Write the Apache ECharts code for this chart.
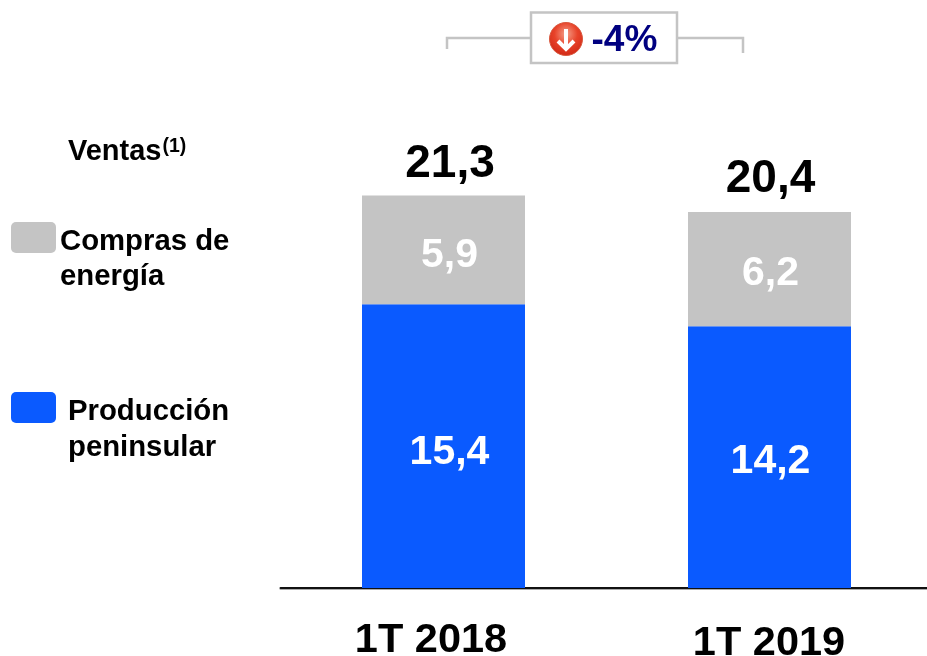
<!DOCTYPE html>
<html><head><meta charset="utf-8">
<style>html,body{margin:0;padding:0;background:#fff}#c{width:927px;height:656px}</style>
<script src="https://cdn.jsdelivr.net/npm/echarts@6/dist/echarts.min.js"></script>
</head><body><div id="c"></div>
<script>
const categories = ['1T 2018', '1T 2019'];
const produccion = [15.4, 14.2];
const compras = [5.9, 6.2];
const totales = [21.3, 20.4];
const nameProduccion = 'Producción peninsular';
const nameCompras = 'Compras de energía';
const variacion = '-4%';

const FONT = '"Liberation Sans", Arial, sans-serif';
const fmt = v => v.toFixed(1).replace('.', ',');
const insideOffsetsProd = [[6, 7], [1, 5]];
const insideOffsetsComp = [[6, 6], [1, 5]];
const totalOffsets = [[6.5, 1], [1, 0]];
const boldLabel = (size, color) => ({fontFamily: FONT, fontWeight: 'bold', fontSize: size, color});

const chart = echarts.init(document.getElementById('c'), null, {renderer: 'canvas'});
const txt = (x, y, text, size, extra) => ({type: 'text', x, y, silent: true, style: Object.assign({
  text, fontFamily: FONT, fontWeight: 'bold', fontSize: size, fill: '#000', verticalAlign: 'middle'
}, extra || {})});
const bracket = pts => ({type: 'polyline', silent: true, shape: {points: pts}, style: {stroke: '#c4c4c4', lineWidth: 2.5, fill: null}});

chart.setOption({
  animation: false,
  backgroundColor: '#fff',
  grid: {left: 280.5, top: 127.25, width: 652, height: 460.75, outerBoundsMode: 'none'},
  xAxis: {
    type: 'category', data: categories,
    axisTick: {show: false},
    axisLine: {lineStyle: {color: '#111', width: 2, shadowColor: '#aaa', shadowBlur: 0, shadowOffsetY: 1}},
    axisLabel: {
      margin: 32,
      formatter: (v, i) => '{c' + i + '|' + v + '}',
      rich: {
        c0: Object.assign(boldLabel(41.5, '#000'), {padding: [0, 25, 0, 0]}),
        c1: Object.assign(boldLabel(41.5, '#000'), {padding: [3, 1, 0, 0]})
      }
    }
  },
  yAxis: {type: 'value', min: 0, max: 25, show: false},
  series: [
    {name: nameProduccion, type: 'bar', stack: 'v', barWidth: 163, itemStyle: {color: '#0a5aff'},
     data: produccion.map((v, i) => ({value: v, label: {offset: insideOffsetsProd[i]}})),
     label: Object.assign({show: true, position: 'inside', formatter: p => fmt(p.value)}, boldLabel(41, '#fff'))},
    {name: nameCompras, type: 'bar', stack: 'v', barWidth: 163, itemStyle: {color: '#c4c4c4'},
     data: compras.map((v, i) => ({value: v, label: {offset: insideOffsetsComp[i]}})),
     label: Object.assign({show: true, position: 'inside', formatter: p => fmt(p.value)}, boldLabel(41, '#fff'))},
    {name: 'Total', type: 'line', symbol: 'circle', symbolSize: 1, itemStyle: {color: 'transparent'}, lineStyle: {opacity: 0},
     data: totales.map((v, i) => ({value: v, label: {offset: totalOffsets[i]}})),
     label: Object.assign({show: true, position: 'top', distance: 9, formatter: p => fmt(p.value)}, boldLabel(46, '#000'))}
  ],
  graphic: [
    bracket([[447, 49], [447, 38], [531, 38]]),
    bracket([[677, 38], [743, 38], [743, 53]]),
    {type: 'rect', silent: true, shape: {x: 531, y: 12.5, width: 146, height: 50.5}, style: {fill: '#fff', stroke: '#c4c4c4', lineWidth: 2.5}},
    {type: 'circle', silent: true, shape: {cx: 566, cy: 39, r: 16.5}, style: {
      fill: new echarts.graphic.RadialGradient(0.5, 0.35, 0.75, [
        {offset: 0, color: '#f4a08a'}, {offset: 0.45, color: '#e8432a'}, {offset: 1, color: '#c9200f'}]),
      stroke: '#d9593f', lineWidth: 1}},
    {type: 'polyline', silent: true, shape: {points: [[566, 29], [566, 48]]}, style: {stroke: '#fff', lineWidth: 4, fill: null}},
    {type: 'polyline', silent: true, shape: {points: [[558, 41], [566, 49], [574, 41]]}, style: {stroke: '#fff', lineWidth: 4, fill: null}},
    txt(591.5, 41, variacion, 37, {fill: '#000080'}),
    txt(68, 152, 'Ventas', 29),
    txt(162.5, 147, '(1)', 19.5),
    {type: 'rect', silent: true, shape: {x: 11, y: 222, width: 45, height: 31, r: 5}, style: {fill: '#c4c4c4'}},
    txt(60, 242, 'Compras de', 29.3),
    txt(60, 277, 'energía', 29.3),
    {type: 'rect', silent: true, shape: {x: 11, y: 392, width: 45, height: 31, r: 5}, style: {fill: '#0a5aff'}},
    txt(68, 412, 'Producción', 29.3),
    txt(68, 448, 'peninsular', 29.3)
  ]
});
</script></body></html>
